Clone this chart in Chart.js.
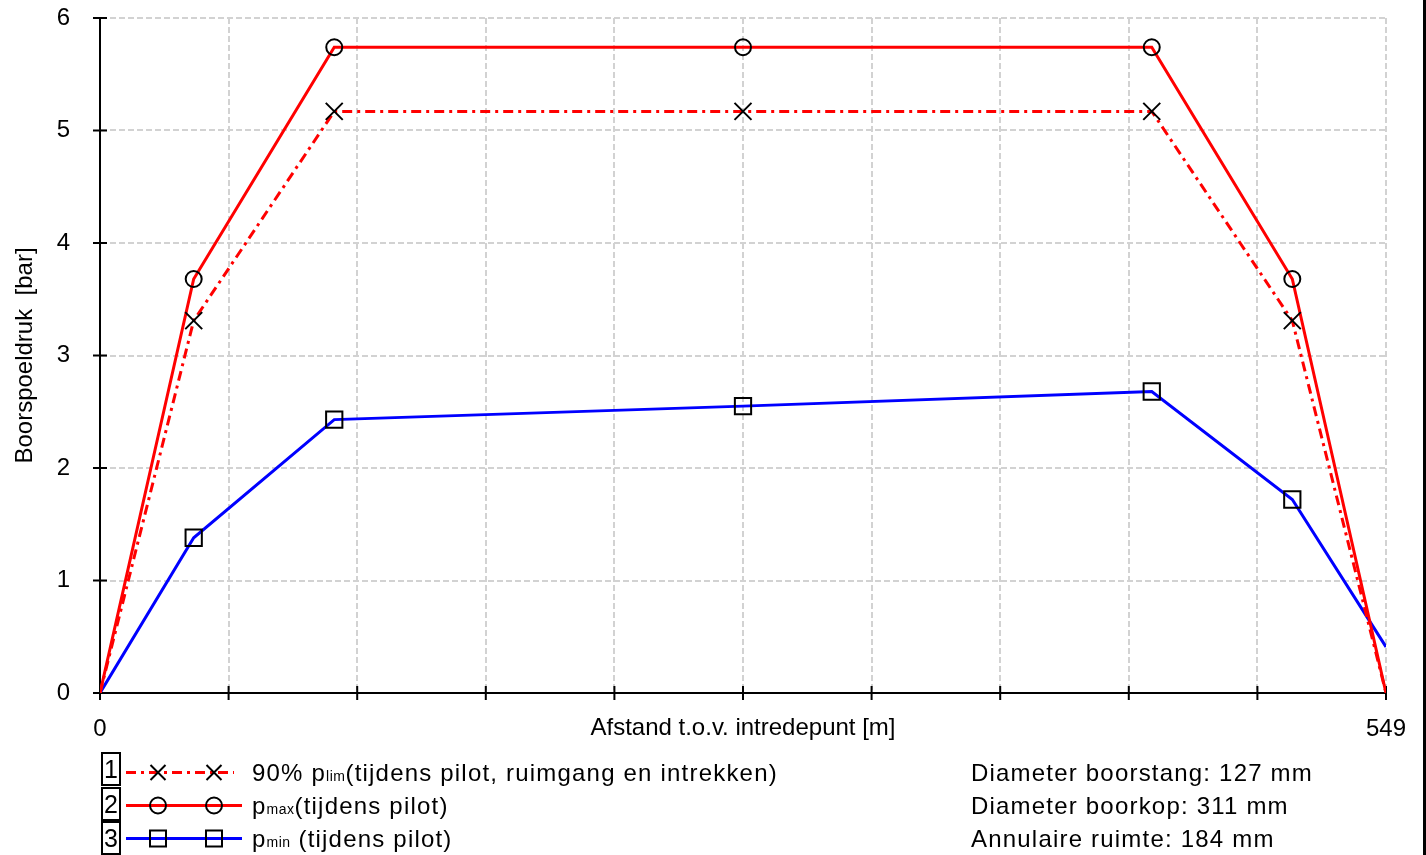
<!DOCTYPE html>
<html lang="nl">
<head>
<meta charset="utf-8">
<title>Boorspoeldruk</title>
<script src="https://cdn.jsdelivr.net/npm/chart.js@4/dist/chart.umd.min.js"></script>
<style>
  html, body { margin: 0; padding: 0; background: #fff; }
  #wrap { position: relative; width: 1426px; height: 855px; overflow: hidden;
          font-family: 'Liberation Sans', Arial, sans-serif; color: #000; }
  #chart { position: absolute; left: 0; top: 0; }
  .frame { position: absolute; left: 1423px; top: 0; width: 3px; height: 855px; background: #000; }
  .nr { position: absolute; left: 101px; width: 20px; height: 34px; box-sizing: border-box;
        border: 2px solid #000; font-size: 25px; line-height: 31px; text-align: center; }
  .row { position: absolute; height: 33px; line-height: 33px; font-size: 24px; letter-spacing: 1.2px; white-space: nowrap; }
  .row sub { font-size: 14px; vertical-align: baseline; letter-spacing: 0.5px; }
  .sample { position: absolute; left: 124px; }
</style>
</head>
<body>
<div id="wrap">
  <canvas id="chart" width="1426" height="855"></canvas>
  <div class="frame"></div>
  <div id="legend"></div>
</div>
<script>
// afstand t.o.v. intredepunt [m]
const distance = [0, 40, 100, 274.5, 449, 509, 549];
// boorspoeldruk [bar]
const plim90 = [0, 3.31, 5.17, 5.17, 5.17, 3.31, 0];
const pmax = [0, 3.68, 5.74, 5.74, 5.74, 3.68, 0];
const pmin = [0, 1.38, 2.43, 2.55, 2.68, 1.72, 0.41];

const xMax = 549;
const xDivisions = 10;
const yTicks = [0, 1, 2, 3, 4, 5, 6];

const legendRows = [
  { nr: '1', pre: '90% p', sub: 'lim', post: '(tijdens pilot, ruimgang en intrekken)' },
  { nr: '2', pre: 'p', sub: 'max', post: '(tijdens pilot)' },
  { nr: '3', pre: 'p', sub: 'min', post: ' (tijdens pilot)' }
];
const infoRows = ['Diameter boorstang: 127 mm', 'Diameter boorkop: 311 mm', 'Annulaire ruimte: 184 mm'];

Chart.defaults.font.family = "'Liberation Sans', Arial, sans-serif";
Chart.defaults.color = '#000';

function toPoints(ys) {
  return ys.map((v, i) => ({ x: distance[i], y: v }));
}
// geen markers op begin- en eindpunt
function innerRadius(r) {
  return ctx => (ctx.dataIndex === 0 || ctx.dataIndex === distance.length - 1) ? 0 : r;
}

// tickstreepjes die de as kruisen
const crossTicks = {
  id: 'crossTicks',
  beforeDatasetsDraw(chart) {
    const { ctx, scales: { x, y } } = chart;
    ctx.save();
    ctx.strokeStyle = '#000';
    ctx.lineWidth = 2;
    ctx.beginPath();
    x.ticks.forEach(t => {
      const px = x.getPixelForValue(t.value);
      ctx.moveTo(px, x.top - 7);
      ctx.lineTo(px, x.top + 7);
    });
    y.ticks.forEach(t => {
      const py = y.getPixelForValue(t.value);
      ctx.moveTo(y.right - 7, py);
      ctx.lineTo(y.right + 7, py);
    });
    ctx.stroke();
    ctx.restore();
  }
};

new Chart(document.getElementById('chart'), {
  type: 'line',
  data: {
    datasets: [
      {
        label: '90% plim',
        data: toPoints(plim90),
        borderColor: '#ff0000',
        borderWidth: 3,
        borderDash: [10, 5, 3, 5],
        pointStyle: 'crossRot',
        pointRadius: innerRadius(12),
        pointBorderColor: '#000',
        pointBackgroundColor: 'rgba(0,0,0,0)',
        pointBorderWidth: 2
      },
      {
        label: 'pmax',
        data: toPoints(pmax),
        borderColor: '#ff0000',
        borderWidth: 3,
        pointStyle: 'circle',
        pointRadius: innerRadius(8),
        pointBorderColor: '#000',
        pointBackgroundColor: 'rgba(0,0,0,0)',
        pointBorderWidth: 2
      },
      {
        label: 'pmin',
        data: toPoints(pmin),
        borderColor: '#0000ff',
        borderWidth: 3,
        pointStyle: 'rect',
        pointRadius: innerRadius(11.5),
        pointBorderColor: '#000',
        pointBackgroundColor: 'rgba(0,0,0,0)',
        pointBorderWidth: 2
      }
    ]
  },
  options: {
    responsive: false,
    animation: false,
    layout: { padding: { top: 18, right: 40, bottom: 0, left: 0 } },
    plugins: { legend: { display: false }, tooltip: { enabled: false } },
    elements: { line: { tension: 0 } },
    scales: {
      x: {
        type: 'linear',
        min: 0,
        max: xMax,
        afterFit: s => { s.height = 162; s.paddingLeft = 0; s.paddingRight = 0; },
        afterBuildTicks: s => {
          s.ticks = Array.from({ length: xDivisions + 1 }, (_, i) => ({ value: xMax * i / xDivisions }));
        },
        ticks: {
          autoSkip: false,
          maxRotation: 0,
          padding: 15,
          font: { size: 24 },
          callback: v => (v === 0 || v === xMax) ? String(v) : ''
        },
        grid: { color: '#d2d2d2', lineWidth: 2, tickLength: 7, tickColor: 'rgba(0,0,0,0)' },
        border: { color: '#000', width: 2, dash: [6, 3] },
        title: {
          display: true,
          text: 'Afstand t.o.v. intredepunt [m]',
          font: { size: 24 },
          padding: { top: 0, bottom: 112 }
        }
      },
      y: {
        min: 0,
        max: 6,
        afterFit: s => { s.width = 100; s.paddingTop = 0; s.paddingBottom = 0; },
        afterBuildTicks: s => { s.ticks = yTicks.map(v => ({ value: v })); },
        ticks: { padding: 23, font: { size: 24 } },
        grid: { color: '#d2d2d2', lineWidth: 2, tickLength: 7, tickColor: 'rgba(0,0,0,0)' },
        border: { color: '#000', width: 2, dash: [6, 3] },
        title: {
          display: true,
          text: 'Boorspoeldruk  [bar]',
          font: { size: 24 },
          padding: { top: 11, bottom: 0 }
        }
      }
    }
  },
  plugins: [crossTicks]
});

// legenda onder de grafiek
const legend = document.getElementById('legend');
const rowTop = 755.5, rowStep = 33;
const boxTops = [752, 787, 821];
const samples = [
  `<line x1="2" y1="16.5" x2="110" y2="16.5" stroke="#f00" stroke-width="3" stroke-dasharray="10 5 3 5"/>
   <path d="M26.5 9 L41.5 24 M41.5 9 L26.5 24 M82.5 9 L97.5 24 M97.5 9 L82.5 24" stroke="#000" stroke-width="2" fill="none"/>`,
  `<line x1="2" y1="16.5" x2="118" y2="16.5" stroke="#f00" stroke-width="3"/>
   <circle cx="34" cy="16.5" r="8" stroke="#000" stroke-width="2" fill="none"/>
   <circle cx="90" cy="16.5" r="8" stroke="#000" stroke-width="2" fill="none"/>`,
  `<line x1="2" y1="16.5" x2="118" y2="16.5" stroke="#00f" stroke-width="3"/>
   <rect x="26" y="8.5" width="16" height="16" stroke="#000" stroke-width="2" fill="none"/>
   <rect x="82" y="8.5" width="16" height="16" stroke="#000" stroke-width="2" fill="none"/>`
];
legendRows.forEach((r, i) => {
  const top = rowTop + i * rowStep;
  legend.insertAdjacentHTML('beforeend',
    `<div class="nr" style="top:${boxTops[i]}px">${r.nr}</div>` +
    `<svg class="sample" style="top:${top}px" width="122" height="33">${samples[i]}</svg>` +
    `<div class="row" style="left:252px;top:${top}px">${r.pre}<sub>${r.sub}</sub>${r.post}</div>`);
});
infoRows.forEach((t, i) => {
  legend.insertAdjacentHTML('beforeend',
    `<div class="row" style="left:971px;top:${rowTop + i * rowStep}px">${t}</div>`);
});
</script>
</body>
</html>
